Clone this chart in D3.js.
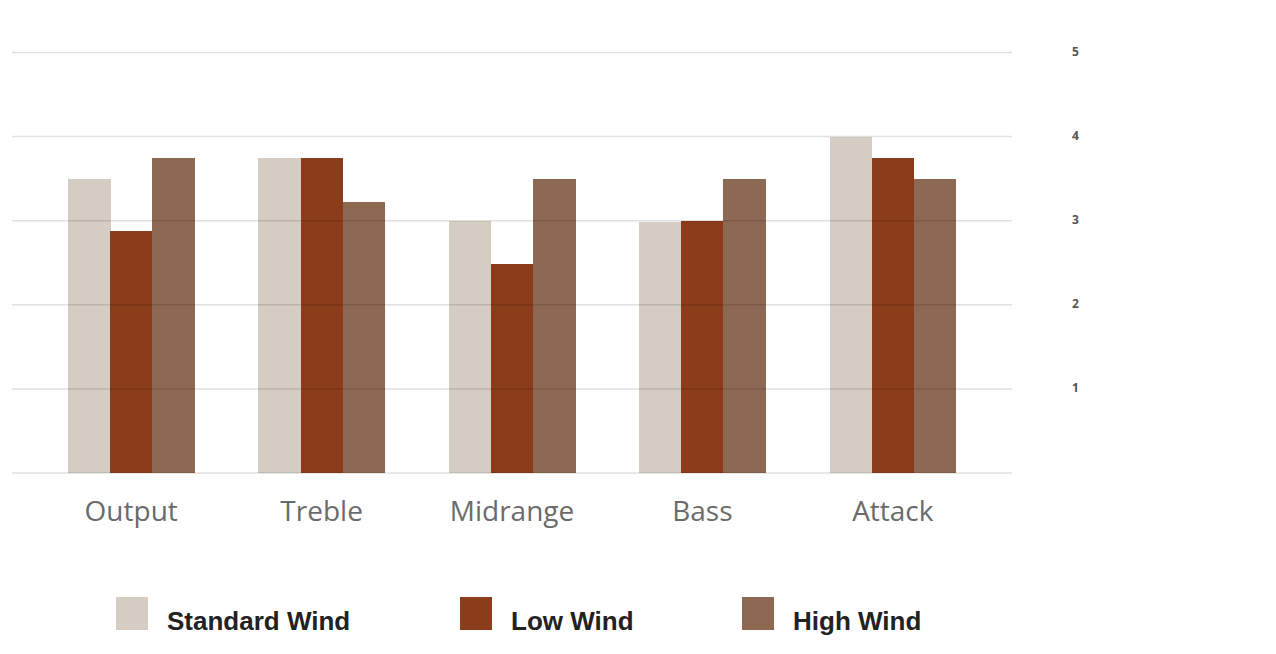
<!DOCTYPE html>
<html>
<head>
<meta charset="utf-8">
<script src="https://cdn.jsdelivr.net/npm/d3@7"></script>
<style>
  html, body { margin: 0; padding: 0; background: #fff; }
  svg { display: block; }
</style>
</head>
<body>
<svg id="chart" width="1276" height="654"></svg>
<script>
const categories = ["Output", "Treble", "Midrange", "Bass", "Attack"];
const seriesNames = ["Standard Wind", "Low Wind", "High Wind"];
const standardWind = [3.5, 3.75, 3.0, 2.98, 4.0];
const lowWind = [2.88, 3.75, 2.48, 3.0, 3.75];
const highWind = [3.75, 3.22, 3.5, 3.5, 3.5];
const yTicks = [1, 2, 3, 4, 5];
const colors = ["#d5cdc3", "#8b3c1a", "#8d6852"];

const seriesValues = [standardWind, lowWind, highWind];
const data = categories.map((c, i) => ({
  category: c,
  values: seriesNames.map((s, j) => ({ series: s, value: seriesValues[j][i] }))
}));

const svg = d3.select("#chart");

const x0 = d3.scaleBand().domain(categories).range([36, 988])
  .paddingInner(0.337).paddingOuter(0.1685);
const x1 = d3.scaleBand().domain(seriesNames).range([0, x0.bandwidth()]).padding(0);
const y = d3.scaleLinear().domain([0, 5]).range([473, 52.5]);
const color = d3.scaleOrdinal().domain(seriesNames).range(colors);

// bars
const groups = svg.append("g").selectAll("g").data(data).join("g")
  .attr("transform", d => `translate(${x0(d.category)},0)`);
groups.selectAll("rect").data(d => d.values).join("rect")
  .attr("x", d => x1(d.series))
  .attr("width", x1.bandwidth() + 0.5)
  .attr("y", d => y(d.value))
  .attr("height", d => y(0) - y(d.value))
  .attr("fill", d => color(d.series))
  .attr("shape-rendering", "crispEdges");

// gridlines on top (semi-transparent)
svg.append("g").selectAll("line").data([0].concat(yTicks)).join("line")
  .attr("x1", 12).attr("x2", 1012)
  .attr("y1", d => y(d)).attr("y2", d => y(d))
  .attr("stroke", "#000").attr("stroke-opacity", 0.12).attr("stroke-width", 1.5);

// right axis
const yAxis = d3.axisRight(y).tickValues(yTicks).tickFormat(d3.format("d"))
  .tickSize(0).tickPadding(0);
const ya = svg.append("g").attr("transform", "translate(1072,-1)").call(yAxis);
ya.select(".domain").remove();
ya.selectAll("text")
  .attr("font-family", "'Open Sans', sans-serif")
  .attr("font-size", 12).attr("font-weight", "bold").attr("fill", "#555");

// category axis
const xAxis = d3.axisBottom(x0).tickSize(0).tickPadding(0);
const xa = svg.append("g").attr("transform", "translate(0,500)").call(xAxis);
xa.select(".domain").remove();
xa.selectAll("text")
  .attr("dy", null).attr("y", 21)
  .attr("font-family", "'Open Sans', sans-serif")
  .attr("font-size", 28).attr("fill", "#6b6b6b");

// legend
const legendX = [116, 460, 742];
const legend = svg.append("g").selectAll("g").data(seriesNames).join("g")
  .attr("transform", (d, i) => `translate(${legendX[i]},597)`);
legend.append("rect").attr("width", 32).attr("height", 33)
  .attr("fill", d => color(d));
legend.append("text").attr("x", 51).attr("y", 33)
  .attr("font-family", "'Liberation Sans', Arial, sans-serif")
  .attr("font-size", 26).attr("font-weight", "bold").attr("fill", "#222")
  .text(d => d);
</script>
</body>
</html>
